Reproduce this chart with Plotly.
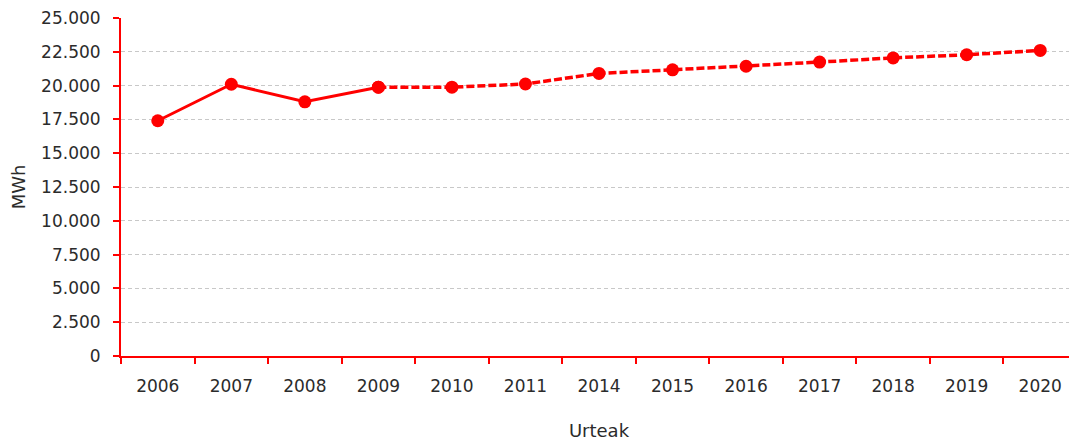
import plotly.graph_objects as go

years = ["2006", "2007", "2008", "2009", "2010", "2011", "2014", "2015", "2016", "2017", "2018", "2019", "2020"]
values = [17400, 20100, 18800, 19880, 19880, 20120, 20900, 21170, 21430, 21740, 22050, 22280, 22600]
solid_end = 4  # 2006-2009 measured (solid), 2009 onward dashed

RED = "#ff0000"
FONT = "DejaVu Sans"
TXT = "#2b2b2b"

fig = go.Figure()
fig.add_trace(go.Scatter(
    x=years[solid_end - 1:], y=values[solid_end - 1:], mode="lines+markers",
    line=dict(color=RED, width=3.5, dash="8px,3px"),
    marker=dict(color=RED, size=13), showlegend=False, hoverinfo="x+y"))
fig.add_trace(go.Scatter(
    x=years[:solid_end], y=values[:solid_end], mode="lines+markers",
    line=dict(color=RED, width=3),
    marker=dict(color=RED, size=13), showlegend=False, hoverinfo="x+y"))

fig.update_layout(
    width=1069, height=433,
    margin=dict(l=113, r=0, t=10, b=85),
    paper_bgcolor="white", plot_bgcolor="white",
    separators=",.",
    font=dict(family=FONT, size=16, color=TXT),
    xaxis=dict(
        type="category", categoryorder="array", categoryarray=years,
        range=[-0.5, len(years) - 0.5],
        showline=True, linecolor=RED, linewidth=2,
        ticks="outside", tickcolor=RED, ticklen=6, tickwidth=2,
        tickson="boundaries", showgrid=False, automargin=False,
        tickfont=dict(family=FONT, size=17, color=TXT), ticklabelstandoff=14,
        title=dict(text="Urteak", font=dict(family=FONT, size=18, color=TXT), standoff=30),
    ),
    yaxis=dict(
        range=[0, 25000], dtick=2500, tickformat=",d",
        showline=True, linecolor=RED, linewidth=2,
        ticks="outside", tickcolor=RED, ticklen=6, tickwidth=2,
        showgrid=True, gridcolor="#c8c8c8", griddash="4px,3px", gridwidth=1,
        zeroline=False, automargin=False, ticklabeloverflow="allow",
        tickfont=dict(family=FONT, size=17, color=TXT), ticklabelstandoff=9,
        title=dict(text="MWh", font=dict(family=FONT, size=18, color=TXT), standoff=14),
    ),
)

fig.write_html("out.html")
